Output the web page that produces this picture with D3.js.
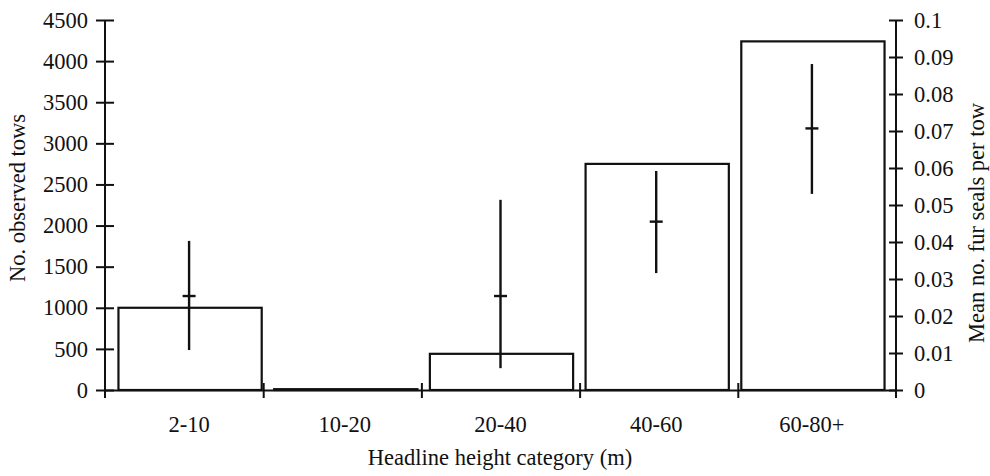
<!DOCTYPE html>
<html>
<head>
<meta charset="utf-8">
<script src="https://cdn.jsdelivr.net/npm/d3@7"></script>
<style>
  body { margin: 0; background: #fff; }
  svg { display: block; }
  text { font-family: "Liberation Serif", "Times New Roman", Times, serif; fill: #111; font-size: 22.5px; }
  .axis path, .axis line { stroke: #111; stroke-width: 2; }
  .bar { fill: none; stroke: #111; stroke-width: 2.2; }
  .err { stroke: #111; stroke-width: 2.4; }
</style>
</head>
<body>
<div id="chart"></div>
<script>
// data
const categories = ['2-10', '10-20', '20-40', '40-60', '60-80+'];
const tows = [1000, 10, 440, 2750, 4240];            // left axis, bars
const sealMean = [0.0254, null, 0.0254, 0.0455, 0.0707]; // right axis
const sealLow = [0.0108, null, 0.0059, 0.0316, 0.0530];
const sealHigh = [0.0403, null, 0.0514, 0.0592, 0.0881];
const leftTicks = [0, 500, 1000, 1500, 2000, 2500, 3000, 3500, 4000, 4500];
const rightTicks = [0, 0.01, 0.02, 0.03, 0.04, 0.05, 0.06, 0.07, 0.08, 0.09, 0.1];

const width = 990, height = 476;
const x0 = 105, x1 = 896, yTop = 20, yBase = 390;

let svg = d3.select('#chart').append('svg')
    .attr('width', width)
    .attr('height', height);

let x = d3.scaleBand().domain(categories).range([x0, x1]).padding(0.08)
let xb = d3.scaleLinear().domain([0, categories.length]).range([x0, x1])
let yL = d3.scaleLinear().domain([0, 4500]).range([yBase, yTop])
let yR = d3.scaleLinear().domain([0, 0.1]).range([yBase, yTop])

let rows = categories.map((c, i) => ({cat: c, tows: tows[i], m: sealMean[i], lo: sealLow[i], hi: sealHigh[i]}))

// bars (open rectangles)
svg.append('g').selectAll('rect.bar').data(rows)
    .join('rect')
    .attr('class', 'bar')
    .attr('x', d => x(d.cat) + 1)
    .attr('width', x.bandwidth())
    .attr('y', d => yL(d.tows))
    .attr('height', d => yBase - yL(d.tows))

// x axis: boundary ticks crossing the line
let xAxis = svg.append('g').attr('class', 'axis')
    .attr('transform', `translate(0,${yBase})`)
    .call(d3.axisBottom(xb).tickValues([1, 2, 3, 4]).tickSizeOuter(0).tickFormat(''))
xAxis.selectAll('.tick line').attr('y1', -7).attr('y2', 8)

svg.append('g')
    .attr('transform', `translate(0,${yBase})`)
    .call(d3.axisBottom(x).tickSize(0).tickPadding(26))
    .call(g => g.select('.domain').remove())

// left axis
let left = svg.append('g').attr('class', 'axis')
    .attr('transform', `translate(${x0},0)`)
    .call(d3.axisLeft(yL).tickValues(leftTicks).tickSize(9).tickPadding(8).tickSizeOuter(0).tickFormat(d3.format('d')))
left.selectAll('.tick line').attr('x1', 9)
left.select('.domain').attr('d', `M0,${yTop}V${yBase + 8}`)

// right axis
let right = svg.append('g').attr('class', 'axis')
    .attr('transform', `translate(${x1},0)`)
    .call(d3.axisRight(yR).tickValues(rightTicks).tickSize(7).tickPadding(11).tickSizeOuter(0).tickFormat(d => d3.format('')(+d.toFixed(2))))
right.selectAll('.tick line').attr('x1', -7)
right.select('.domain').attr('d', `M0,${yTop}V${yBase + 8}`)

// error bars on right scale
let eb = rows.filter(d => d.m != null)
let cx = d => x(d.cat) + x.bandwidth() / 2
svg.append('g').selectAll('line.err').data(eb)
    .join('line')
    .attr('class', 'err')
    .attr('x1', cx).attr('x2', cx)
    .attr('y1', d => yR(d.hi)).attr('y2', d => yR(d.lo))
svg.append('g').selectAll('line.cap').data(eb)
    .join('line')
    .attr('class', 'err')
    .attr('x1', d => cx(d) - 6.5).attr('x2', d => cx(d) + 6.5)
    .attr('y1', d => yR(d.m)).attr('y2', d => yR(d.m))

// titles
svg.append('text')
    .attr('transform', `translate(25,198) rotate(-90)`)
    .attr('text-anchor', 'middle')
    .text('No. observed tows')

svg.append('text')
    .attr('transform', `translate(984,223) rotate(-90)`)
    .attr('text-anchor', 'middle')
    .text('Mean no. fur seals per tow')

svg.append('text')
    .attr('x', 500).attr('y', 465)
    .attr('text-anchor', 'middle')
    .text('Headline height category (m)')
</script>
</body>
</html>
